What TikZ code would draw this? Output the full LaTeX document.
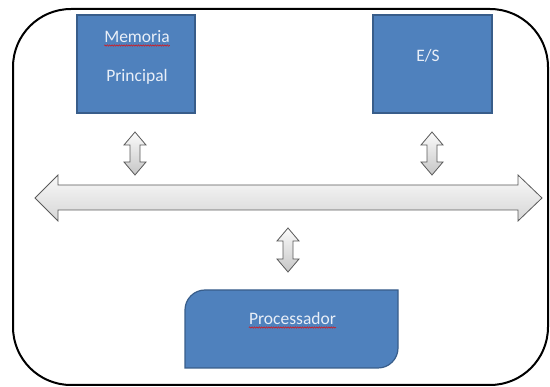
\documentclass[tikz,border=0pt]{standalone}
\usepackage{fontspec}
\setmainfont{Carlito}
\usetikzlibrary{decorations.pathmorphing}

\definecolor{boxfill}{HTML}{4F81BD}
\definecolor{boxline}{HTML}{385D8A}
\definecolor{boxtext}{HTML}{E9EFF8}
\definecolor{arrowline}{HTML}{5A5A5A}
\definecolor{spell}{HTML}{E01010}

% vertical double block arrow: centre x, top y, bottom y
\newcommand\vdarrow[3]{%
  \path[vblock] (#1,#2) -- (#1+11,#2+13) -- (#1+5,#2+13) -- (#1+5,#3-13)
    -- (#1+11,#3-13) -- (#1,#3) -- (#1-11,#3-13) -- (#1-5,#3-13)
    -- (#1-5,#2+13) -- (#1-11,#2+13) -- cycle;}

\tikzset{
  unitbox/.style={draw=boxline, line width=1.2pt, fill=boxfill, inner sep=0pt},
  lbl/.style={text=boxtext, inner sep=0pt, font=\fontsize{17.5}{21}\selectfont},
  frame/.style={draw=black, line width=2pt, rounded corners=58pt},
  vblock/.style={draw=arrowline, line width=0.8pt, top color=gray!3, bottom color=gray!45},
  hblock/.style={draw=arrowline, line width=0.8pt, top color=gray!5, bottom color=gray!32},
  squig/.style={draw=spell, line width=0.5pt, decorate,
    decoration={snake, amplitude=0.7pt, segment length=2.4pt}},
}

\begin{document}
\begin{tikzpicture}[x=1pt, y=-1pt]
  \useasboundingbox (0,0) rectangle (550,387);

  % outer frame
  \path[frame] (13,9) rectangle (548,385);

  % main memory and I/O units
  \node[unitbox, minimum width=118pt, minimum height=98pt] (mem) at (136,64) {};
  \node[unitbox, minimum width=119pt, minimum height=98pt] (es) at (432.5,64) {};

  % processor: top-left and bottom-right corners rounded
  \path[unitbox] (185,368) -- (185,310) arc[start angle=180, end angle=270, radius=20]
    -- (398,290) -- (398,348) arc[start angle=0, end angle=90, radius=20] -- cycle;
  \coordinate (proc) at (291.5,329);

  % labels
  \node[lbl, anchor=base] (memA) at (137,43) {Memoria};
  \node[lbl, anchor=base] (memB) at (137,81.5) {Principal};
  \node[lbl, anchor=base] (esA) at (428,61.5) {E/S};
  \node[lbl, anchor=base] (procA) at (292.5,325) {Processador};

  % spell-check underlines
  \draw[squig] ([yshift=-2.5pt]memA.base west) -- ([yshift=-2.5pt]memA.base east);
  \draw[squig] ([yshift=-2.5pt]procA.base west) -- ([yshift=-2.5pt]procA.base east);

  % system bus
  \path[hblock] (35,198) -- (58,175) -- (58,185) -- (518,185) -- (518,175)
    -- (542,198) -- (518,221) -- (518,210) -- (58,210) -- (58,221) -- cycle;

  % links between the units and the bus
  \vdarrow{135}{132}{175}
  \vdarrow{432}{132}{175}
  \vdarrow{288}{228}{272}
\end{tikzpicture}
\end{document}
